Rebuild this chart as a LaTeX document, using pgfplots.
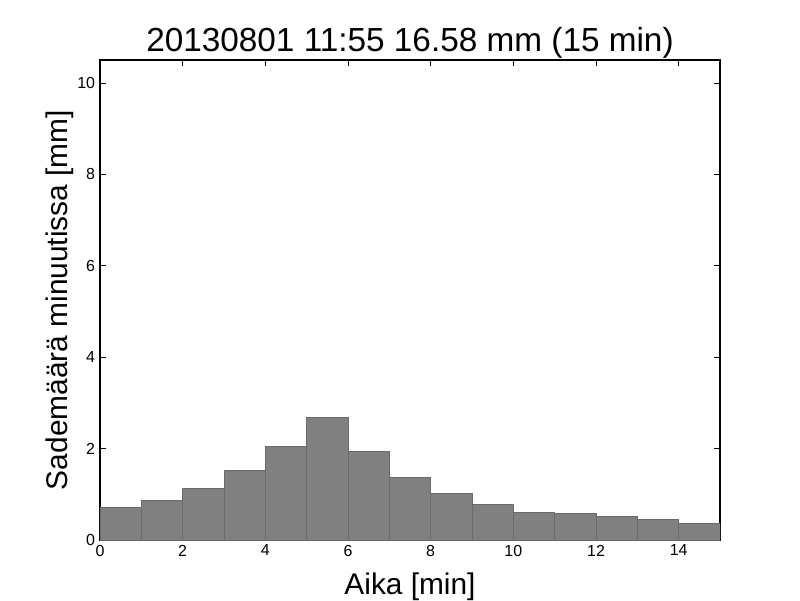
\documentclass[border=0pt]{standalone}
\usepackage{fontspec}
\setmainfont{Liberation Sans}
\usepackage{pgfplots}
\pgfplotsset{compat=1.18}
\begin{document}
\begin{tikzpicture}
\begin{axis}[
  scale only axis,
  width=446.4pt, height=345.6pt,
  xmin=0, xmax=15, ymin=0, ymax=10.5,
  xtick={0,2,...,14}, ytick={0,2,...,10},
  tick align=inside, xtick pos=both, ytick pos=both,
  major tick length=4pt,
  tick style={black, line width=0.5pt},
  axis line style={line width=1pt},
  /pgf/number format/assume math mode=true,
  ticklabel style={font=\fontsize{11.5}{13}\selectfont},
  title={20130801 11:55 16.58 mm (15 min)},
  title style={font=\fontsize{24}{28}\selectfont, at={(axis description cs:0.5,1)}, anchor=base, yshift=0pt},
  xlabel={Aika [min]},
  xlabel style={font=\fontsize{21.5}{25}\selectfont, at={(axis description cs:0.5,0)}, anchor=base, yshift=-39pt},
  ylabel={Sademäärä minuutissa [mm]},
  ylabel style={font=\fontsize{21.5}{25}\selectfont, at={(axis description cs:0,0.5)}, anchor=base, yshift=23.5pt},
]
\addplot[ybar interval, fill=black!50, draw=black!58, line width=0.6pt] coordinates {
(0,0.71) (1,0.87) (2,1.13) (3,1.52) (4,2.05) (5,2.68) (6,1.94) (7,1.37)
(8,1.02) (9,0.78) (10,0.60) (11,0.58) (12,0.52) (13,0.45) (14,0.36) (15,0.36)
};
\end{axis}
\pgfresetboundingbox
\path[use as bounding box] (-72pt,-43.2pt) rectangle (504pt,388.8pt);
\end{tikzpicture}
\end{document}
